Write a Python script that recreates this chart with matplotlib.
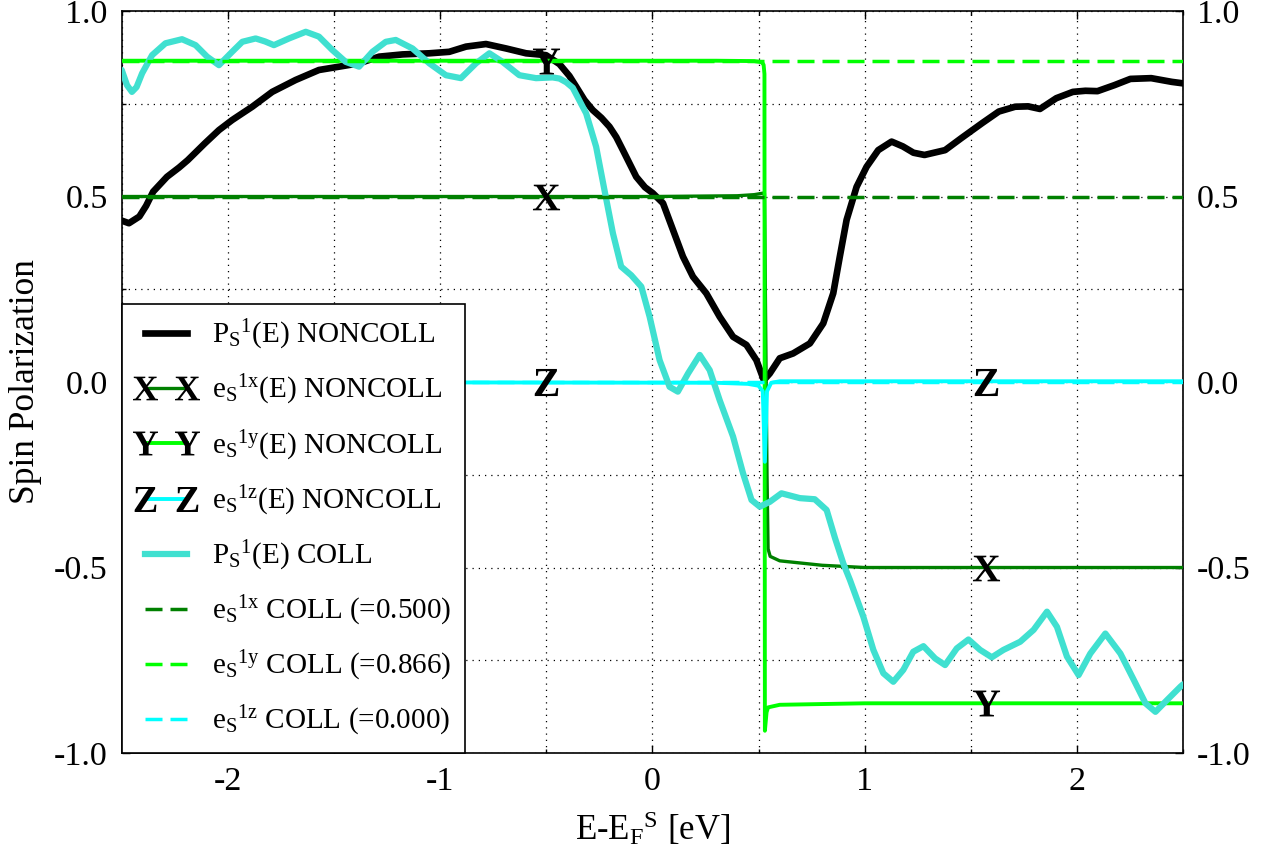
import numpy as np
import matplotlib
matplotlib.use("Agg")
import matplotlib.pyplot as plt
from matplotlib.lines import Line2D
from matplotlib.ticker import MultipleLocator, FixedLocator

plt.rcParams['font.family'] = ['Liberation Serif', 'DejaVu Serif']
plt.rcParams['mathtext.fontset'] = 'custom'
plt.rcParams['mathtext.rm'] = 'Liberation Serif'
plt.rcParams['mathtext.it'] = 'Liberation Serif:italic'
plt.rcParams['mathtext.bf'] = 'Liberation Serif:bold'
plt.rcParams['axes.unicode_minus'] = False

# ---------------- data ----------------
E_noncoll = [-2.5, -2.466, -2.417, -2.385, -2.352, -2.287, -2.23, -2.189, -2.109, -2.042,
             -1.98, -1.93, -1.885, -1.791, -1.681, -1.571, -1.476, -1.382, -1.287, -1.177,
             -1.051, -0.957, -0.878, -0.784, -0.689, -0.595, -0.501, -0.438, -0.391, -0.359,
             -0.32, -0.281, -0.24, -0.202, -0.17, -0.139, -0.076, -0.035, 0.002, 0.050,
             0.097, 0.144, 0.191, 0.254, 0.317, 0.380, 0.443, 0.490, 0.525, 0.553,
             0.600, 0.663, 0.742, 0.805, 0.852, 0.883, 0.915, 0.962, 1.009, 1.064,
             1.127, 1.18, 1.23, 1.282, 1.379, 1.457, 1.554, 1.632, 1.709, 1.77,
             1.826, 1.903, 1.981, 2.04, 2.097, 2.176, 2.252, 2.35, 2.447, 2.5]
P_noncoll = [0.435, 0.428, 0.446, 0.475, 0.513, 0.553, 0.578, 0.598, 0.643, 0.679,
             0.706, 0.725, 0.742, 0.782, 0.814, 0.841, 0.850, 0.859, 0.877, 0.883,
             0.886, 0.890, 0.904, 0.911, 0.899, 0.886, 0.881, 0.857, 0.825, 0.796,
             0.76, 0.733, 0.712, 0.688, 0.66, 0.625, 0.553, 0.525, 0.509, 0.482,
             0.410, 0.338, 0.284, 0.239, 0.176, 0.122, 0.100, 0.059, 0.005, 0.023,
             0.064, 0.077, 0.104, 0.158, 0.239, 0.338, 0.437, 0.526, 0.580, 0.625,
             0.648, 0.635, 0.618, 0.612, 0.625, 0.658, 0.698, 0.729, 0.742, 0.743,
             0.736, 0.765, 0.782, 0.785, 0.784, 0.800, 0.817, 0.819, 0.809, 0.805]

E_coll = [-2.5, -2.475, -2.452, -2.43, -2.404, -2.357, -2.294, -2.216, -2.152, -2.098,
          -2.042, -1.980, -1.932, -1.869, -1.825, -1.783, -1.712, -1.633, -1.571, -1.508,
          -1.445, -1.382, -1.319, -1.256, -1.209, -1.130, -1.051, -0.973, -0.902, -0.831,
          -0.768, -0.706, -0.627, -0.548, -0.470, -0.438, -0.406, -0.375, -0.312, -0.265,
          -0.226, -0.186, -0.147, -0.100, -0.052, -0.013, 0.034, 0.081, 0.120, 0.168,
          0.223, 0.270, 0.317, 0.380, 0.427, 0.467, 0.506, 0.553, 0.608, 0.695,
          0.765, 0.821, 0.86, 0.90, 0.931, 0.994, 1.041, 1.088, 1.135, 1.182,
          1.229, 1.277, 1.332, 1.379, 1.434, 1.489, 1.544, 1.599, 1.654, 1.733,
          1.796, 1.859, 1.906, 1.953, 2.008, 2.063, 2.134, 2.205, 2.268, 2.323,
          2.370, 2.425, 2.488, 2.5]
P_coll = [0.841, 0.80, 0.782, 0.795, 0.832, 0.881, 0.913, 0.924, 0.908, 0.877,
          0.854, 0.890, 0.917, 0.926, 0.918, 0.908, 0.926, 0.944, 0.931, 0.895,
          0.863, 0.850, 0.890, 0.917, 0.922, 0.899, 0.859, 0.827, 0.819, 0.859,
          0.886, 0.863, 0.827, 0.819, 0.821, 0.818, 0.808, 0.793, 0.724, 0.634,
          0.518, 0.401, 0.311, 0.288, 0.257, 0.176, 0.059, -0.013, -0.026, 0.023,
          0.073, 0.032, -0.049, -0.147, -0.246, -0.318, -0.336, -0.323, -0.300, -0.313,
          -0.316, -0.345, -0.42, -0.49, -0.534, -0.633, -0.722, -0.785, -0.808, -0.776,
          -0.727, -0.712, -0.745, -0.763, -0.718, -0.694, -0.722, -0.742, -0.722, -0.700,
          -0.668, -0.619, -0.660, -0.740, -0.790, -0.732, -0.678, -0.732, -0.803, -0.866,
          -0.889, -0.857, -0.821, -0.815]

E_ex = [-2.5, 0.0, 0.40, 0.48, 0.52, 0.528, 0.540, 0.545, 0.555, 0.60, 0.80, 1.0, 2.5]
ex_noncoll = [0.5, 0.5, 0.502, 0.505, 0.509, 0.508, -0.25, -0.45, -0.47, -0.482, -0.494, -0.5, -0.5]

E_ey = [-2.5, 0.3, 0.48, 0.515, 0.524, 0.528, 0.530, 0.538, 0.545, 0.60, 1.0, 2.5]
ey_noncoll = [0.866, 0.866, 0.865, 0.862, 0.855, 0.83, -0.94, -0.89, -0.877, -0.87, -0.866, -0.866]

E_ez = [-2.5, 0.3, 0.45, 0.50, 0.52, 0.530, 0.54, 0.56, 0.60, 2.5]
ez_noncoll = [0.0, -0.002, -0.005, -0.01, -0.025, -0.215, -0.025, -0.002, 0.002, 0.002]

E_mark = [-0.5, 1.57]
ex_mark = [0.5, -0.5]
ey_mark = [0.866, -0.866]
ez_mark = [0.0, 0.0]

e_coll = {'x': 0.500, 'y': 0.866, 'z': 0.000}
x_lim = [-2.5, 2.5]

xticks = [-2, -1, 0, 1, 2]
yticks = [-1.0, -0.5, 0.0, 0.5, 1.0]
ytick_labels = ['-1.0', '-0.5', '0.0', '0.5', '1.0']

# ---------------- styles ----------------
c_black = 'black'
c_x = '#008000'
c_y = '#00ff00'
c_z = '#00ffff'
c_coll = '#40e0d0'

fig = plt.figure(figsize=(12.68, 8.6), dpi=100)
ax = fig.add_axes([0.0960, 0.1244, 0.8370, 0.8628])

ax.plot(E_noncoll, P_noncoll, color=c_black, lw=4.8, solid_joinstyle='round',
        solid_capstyle='round', zorder=3)
ax.plot(E_ex, ex_noncoll, color=c_x, lw=2.4, zorder=3)
ax.plot(E_ey, ey_noncoll, color=c_y, lw=2.8, zorder=3)
ax.plot(E_ez, ez_noncoll, color=c_z, lw=2.8, zorder=3)
ax.plot(E_coll, P_coll, color=c_coll, lw=4.5, solid_joinstyle='round',
        solid_capstyle='round', zorder=3)
dash = (0, (4.9, 2.3))
ax.plot(x_lim, [e_coll['x']] * 2, color=c_x, lw=2.5, ls=dash, zorder=3)
ax.plot(x_lim, [e_coll['y']] * 2, color=c_y, lw=2.5, ls=dash, zorder=3)
ax.plot(x_lim, [e_coll['z']] * 2, color=c_z, lw=2.5, ls=dash, zorder=3)

msz = 19.5
for vals, lab in [(ex_mark, 'X'), (ey_mark, 'Y'), (ez_mark, 'Z')]:
    ax.plot(E_mark, vals, ls='none', marker=r'$\mathbf{%s}$' % lab, ms=msz,
            mfc='black', mec='black', mew=0, zorder=4)

ax.set_xlim(*x_lim)
ax.set_ylim(-1.0, 1.0)
ax.xaxis.set_major_locator(FixedLocator(xticks))
ax.xaxis.set_minor_locator(MultipleLocator(0.5))
ax.yaxis.set_major_locator(FixedLocator(yticks))
ax.set_yticklabels(ytick_labels)
ax.yaxis.set_minor_locator(MultipleLocator(0.25))
ax.set_xticklabels([str(t) for t in xticks])

ax.tick_params(which='both', direction='in', top=True, right=True, labelright=True,
               labelsize=24.5, pad=10)
ax.tick_params(which='major', length=6, width=1)
ax.tick_params(which='minor', length=3, width=1)
ax.grid(which='both', color='black', ls=(0, (1, 4)), lw=0.9)
ax.set_axisbelow(True)
for s in ax.spines.values():
    s.set_linewidth(1.2)

ax.set_xlabel(r'E-E$_{\mathrm{F}}{}^{\mathrm{S}}$ [eV]', fontsize=25, labelpad=9)
ax.set_ylabel('Spin Polarization', fontsize=25.5, labelpad=9)

lms = 18
handles = [
    Line2D([], [], color=c_black, lw=4.8),
    Line2D([], [], color=c_x, lw=2.4, marker=r'$\mathbf{X}$', ms=lms, mfc='black', mec='black', mew=0),
    Line2D([], [], color=c_y, lw=2.8, marker=r'$\mathbf{Y}$', ms=lms, mfc='black', mec='black', mew=0),
    Line2D([], [], color=c_z, lw=2.8, marker=r'$\mathbf{Z}$', ms=lms, mfc='black', mec='black', mew=0),
    Line2D([], [], color=c_coll, lw=4.5),
    Line2D([], [], color=c_x, lw=2.5, ls=dash),
    Line2D([], [], color=c_y, lw=2.5, ls=dash),
    Line2D([], [], color=c_z, lw=2.5, ls=dash),
]
labels = [
    r'$\mathrm{P}_{\mathrm{S}}{}^{\mathrm{1}}$(E) NONCOLL',
    r'e$_{\mathrm{S}}{}^{\mathrm{1x}}$(E) NONCOLL',
    r'e$_{\mathrm{S}}{}^{\mathrm{1y}}$(E) NONCOLL',
    r'e$_{\mathrm{S}}{}^{\mathrm{1z}}$(E) NONCOLL',
    r'$\mathrm{P}_{\mathrm{S}}{}^{\mathrm{1}}$(E) COLL',
    r'e$_{\mathrm{S}}{}^{\mathrm{1x}}$ COLL (=%.3f)' % e_coll['x'],
    r'e$_{\mathrm{S}}{}^{\mathrm{1y}}$ COLL (=%.3f)' % e_coll['y'],
    r'e$_{\mathrm{S}}{}^{\mathrm{1z}}$ COLL (=%.3f)' % e_coll['z'],
]
leg = ax.legend(handles, labels, loc='lower left', bbox_to_anchor=(0, 0), borderaxespad=0,
                fontsize=21, numpoints=2, handlelength=2.05, handletextpad=0.53,
                borderpad=0.5, labelspacing=0.72, fancybox=False, framealpha=1,
                edgecolor='black', facecolor='white')
leg.get_frame().set_linewidth(1.2)
leg.set_zorder(10)

fig.savefig('out.png', dpi=100)
